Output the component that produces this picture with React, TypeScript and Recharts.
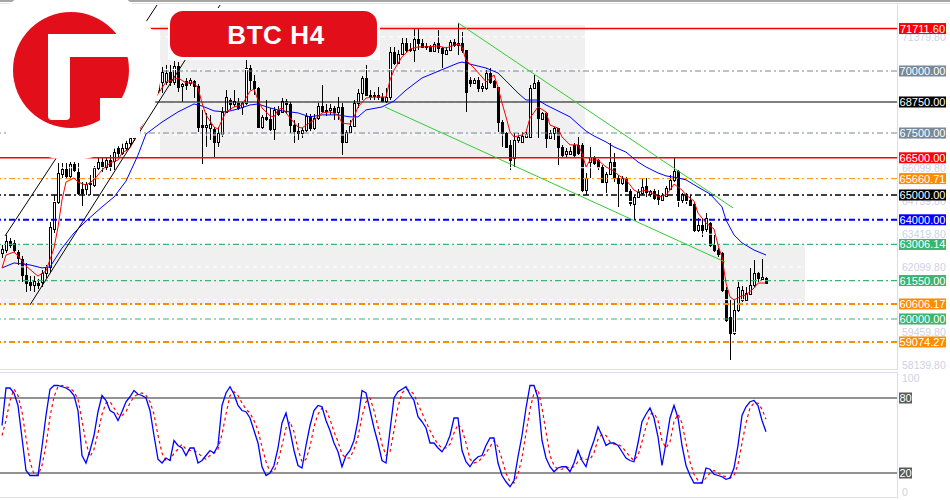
import React from "react";
import {
  ComposedChart,
  Bar,
  Line,
  XAxis,
  YAxis,
  ReferenceLine,
  ReferenceArea,
} from "recharts";

const FONT = "'Liberation Sans', Arial, sans-serif";

// [open, high, low, close] per H4 bar
const OHLC: [number, number, number, number][] = [
  [62660, 62980, 62460, 62820], [62780, 63430, 62660, 63150], [63150, 63270, 62860, 62980], [63070, 63190, 62700, 62780],
  [62700, 62780, 62180, 62460], [62420, 62540, 61490, 61770], [61770, 62260, 61090, 61450], [61490, 61730, 61130, 61370],
  [61370, 61730, 61090, 61530], [61450, 61610, 61210, 61370], [61490, 61980, 61290, 61860], [61860, 62180, 61650, 62100],
  [62100, 63910, 61900, 63710], [63630, 65000, 63470, 64720], [64720, 66290, 64640, 65890], [65850, 66290, 65690, 66050],
  [66050, 66290, 65690, 65770], [65770, 66330, 65690, 66250], [66250, 66330, 65930, 66010], [65930, 66290, 65000, 65080],
  [65240, 65520, 64560, 65080], [65240, 65520, 65000, 65440], [65440, 65810, 65000, 65480], [65400, 66170, 65320, 66090],
  [66090, 66490, 66010, 66330], [66330, 66490, 65930, 66170], [66130, 66530, 66010, 66410], [66410, 66610, 65970, 66170],
  [66370, 66940, 66010, 66730], [66900, 67020, 66530, 66690], [66690, 67100, 66610, 66900], [66900, 67220, 66770, 67100],
  [67100, 67380, 66980, 67300], [67300, 67780, 67180, 67660], [67660, 68190, 67540, 68060], [68060, 68510, 67900, 68350],
  [68350, 68830, 68190, 68670], [68670, 69030, 68510, 68910], [68910, 69400, 68790, 69230], [69230, 69720, 69110, 69560],
  [69560, 70160, 69110, 69960], [69560, 70240, 69440, 69920], [69960, 70240, 69400, 69560], [69560, 70400, 69440, 70200],
  [70200, 70360, 69150, 69350], [69400, 69520, 68750, 69480], [69600, 69720, 69230, 69440], [69520, 69720, 69400, 69640],
  [69600, 69640, 68910, 69400], [69400, 69480, 67540, 67740], [67820, 68430, 66250, 67740], [67740, 68310, 66940, 67820],
  [67700, 68230, 67220, 67860], [67660, 67740, 66530, 67140], [67140, 67740, 66940, 67500], [67460, 68550, 67340, 68350],
  [68350, 69230, 68310, 68950], [68830, 68910, 68430, 68670], [68670, 69230, 68550, 68790], [68750, 68910, 68430, 68510],
  [68550, 68750, 68230, 68710], [68710, 70440, 68630, 70120], [70120, 70240, 69230, 69640], [69600, 69840, 69030, 69310],
  [69310, 69350, 67700, 67740], [67740, 68230, 67660, 68150], [68150, 68830, 67980, 68060], [68060, 68510, 67580, 67660],
  [67660, 68550, 67220, 68430], [68430, 68590, 68190, 68270], [68350, 68910, 68350, 68790], [68790, 68870, 68270, 68670],
  [68670, 68750, 67500, 67820], [67820, 68020, 67100, 67580], [67580, 67900, 67220, 67500], [67500, 67700, 67300, 67620],
  [67620, 68310, 67540, 68190], [68190, 68270, 67580, 67700], [67700, 68270, 67620, 68110], [68110, 68750, 68020, 68590],
  [68590, 69440, 68310, 68390], [68390, 68670, 68190, 68430], [68430, 68670, 68230, 68510], [68510, 68590, 68020, 68350],
  [68350, 68950, 68020, 68550], [68550, 68710, 66610, 67140], [67140, 67620, 67100, 67540], [67540, 68020, 67500, 67780],
  [67780, 68830, 67740, 68710], [68710, 69270, 68510, 69110], [69110, 69800, 68830, 69720], [69720, 70240, 68990, 69030],
  [69030, 69230, 68830, 68990], [68990, 69150, 68830, 69030], [69030, 69350, 68830, 68950], [68950, 69110, 68710, 68790],
  [68790, 69310, 68710, 68950], [68950, 70970, 68830, 70770], [70770, 70970, 70240, 70320], [70320, 70850, 70280, 70690],
  [70690, 71330, 70650, 71130], [71130, 71330, 70770, 70850], [70890, 71130, 70770, 70850], [70850, 71730, 70360, 71290],
  [71290, 71690, 70850, 71130], [71130, 71290, 70930, 70970], [70970, 71130, 70850, 71010], [71010, 71050, 70770, 70810],
  [70810, 71170, 70810, 71090], [71130, 71650, 70730, 70930], [70930, 70970, 70120, 70730], [70690, 70970, 70650, 70850],
  [70850, 71250, 70850, 71170], [71170, 71290, 70970, 71050], [71050, 71940, 70650, 71130], [71130, 71570, 70730, 70850],
  [70850, 70850, 68350, 69150], [69640, 69760, 69350, 69520], [69520, 69720, 69480, 69640], [69640, 69760, 69150, 69310],
  [69310, 69520, 69150, 69400], [69310, 70120, 69230, 69920], [69920, 70120, 69480, 69560], [69600, 69640, 69310, 69350],
  [69350, 69350, 67540, 67940], [67940, 68020, 66940, 67500], [67500, 67540, 66900, 66940], [67020, 67220, 66010, 66410],
  [66490, 67500, 66130, 67220], [67220, 67500, 67100, 67340], [67140, 67540, 67100, 67380], [67340, 67540, 67300, 67460],
  [67340, 69440, 67300, 69310], [69310, 69840, 69310, 69520], [69560, 69640, 67300, 68110], [68060, 68350, 68020, 68310],
  [68310, 68350, 66900, 67300], [67300, 67620, 67260, 67500], [67500, 67740, 67220, 67700], [67700, 67700, 66210, 66940],
  [66940, 67020, 66530, 66610], [66650, 66900, 66530, 66770], [66650, 66940, 66610, 66770], [67020, 67100, 66530, 66610],
  [67020, 67340, 66610, 66690], [67020, 67100, 65120, 65200], [65200, 65890, 65000, 65690], [66330, 66940, 65690, 66530],
  [66530, 66570, 66210, 66290], [66410, 66450, 66010, 66130], [66130, 66210, 65480, 65520], [65520, 65930, 65080, 65850],
  [65850, 67100, 65810, 66330], [66330, 66690, 65520, 65690], [65690, 65810, 64520, 65480], [65480, 65770, 65400, 65690],
  [65690, 65730, 65120, 65160], [65160, 65240, 64560, 64680], [64640, 65000, 63990, 64920], [64920, 65240, 64880, 65120],
  [65080, 65650, 65000, 65320], [65360, 65690, 64920, 65120], [65040, 65200, 64920, 65160], [65160, 65240, 64800, 64880],
  [65000, 65200, 64600, 64840], [64800, 65080, 64760, 65000], [64960, 65360, 64920, 65280], [65240, 65810, 65200, 65610],
  [65610, 66490, 65520, 65970], [65970, 66010, 64520, 64800], [64800, 65080, 64680, 65040], [65040, 65080, 64640, 64800],
  [64800, 65000, 64560, 64600], [64640, 64680, 63510, 63590], [63590, 64070, 63510, 63790], [63790, 64070, 63310, 63590],
  [63630, 64270, 63510, 64070], [63870, 63910, 62900, 62980], [62980, 63390, 62700, 62780], [62780, 62860, 62500, 62620],
  [62660, 62700, 61090, 61170], [61170, 61290, 59880, 59960], [60080, 60770, 58350, 59440], [59440, 60770, 59360, 60360],
  [60360, 61490, 60280, 61290], [60770, 61330, 60690, 61170], [60770, 61290, 60730, 61050], [61010, 62060, 60970, 61370],
  [61370, 62380, 61290, 61860], [61860, 61900, 61490, 61650], [61610, 62420, 61570, 61690], [61650, 61690, 61410, 61450],
];

// fast moving average (red), read at bar index
const FAST_MA: [number, number][] = [
  [0, 62060], [1, 62580], [3, 62700], [4, 62540], [6, 62140], [8, 61860], [9, 61730], [11, 61940], [13, 62860],
  [14, 63710], [15, 64800], [16, 65520], [18, 65690], [19, 65520], [21, 65400], [23, 65610], [25, 66010], [27, 66290],
  [29, 66410], [30, 66690], [32, 66900], [35, 67820], [38, 68830], [41, 69560], [44, 69720], [46, 69520], [48, 69520],
  [49, 69310], [50, 68710], [51, 68230], [53, 67740], [54, 67660], [55, 68020], [56, 68350], [58, 68550], [60, 68630],
  [62, 69190], [63, 69270], [64, 68830], [65, 68510], [67, 68190], [68, 68150], [69, 68430], [70, 68510], [72, 68110],
  [74, 67740], [75, 67700], [76, 67820], [78, 68020], [80, 68310], [82, 68350], [84, 68230], [85, 67900], [87, 67860],
  [88, 68150], [89, 68550], [91, 68910], [93, 68950], [95, 68950], [96, 68950], [97, 69640], [98, 70040], [100, 70570],
  [102, 70890], [104, 70970], [106, 70970], [109, 71010], [111, 70930], [114, 71090], [115, 70970], [116, 70440],
  [118, 70120], [120, 69760], [121, 69560], [123, 69840], [124, 69350], [125, 68710], [126, 68150], [127, 67540],
  [128, 67340], [130, 67420], [131, 67540], [132, 68110], [134, 68550], [136, 68350], [137, 67820], [139, 67700],
  [140, 67340], [142, 67020], [144, 67020], [145, 66690], [146, 66130], [147, 66410], [149, 66410], [151, 66130],
  [153, 65970], [154, 65810], [156, 65610], [158, 65200], [159, 65120], [161, 65200], [163, 65040], [164, 64920],
  [166, 65000], [167, 65200], [168, 65440], [170, 65200], [171, 65000], [173, 64760], [174, 64270], [176, 63870],
  [178, 63630], [179, 62980], [180, 62500], [181, 61450], [182, 60890], [183, 60770], [185, 60930], [186, 60970],
  [188, 61250], [189, 61450], [191, 61450],
];

// slow moving average (blue)
const SLOW_MA: [number, number][] = [
  [0, 62060], [3, 62260], [7, 62180], [10, 62060], [12, 62100], [15, 62860], [18, 63470], [21, 63950], [25, 64520],
  [28, 64920], [31, 65560], [34, 66610], [36, 67460], [40, 67940], [44, 68350], [48, 68670], [50, 68590], [53, 68390],
  [56, 68350], [59, 68470], [62, 68630], [64, 68670], [67, 68510], [70, 68390], [74, 68310], [77, 68150], [80, 68230],
  [84, 68230], [87, 68150], [89, 68150], [91, 68430], [95, 68550], [98, 68790], [101, 69230], [105, 69720], [108, 69920],
  [111, 70120], [114, 70320], [115, 70360], [116, 70320], [118, 70240], [121, 70120], [124, 69920], [126, 69600],
  [129, 69110], [131, 68830], [134, 68830], [136, 68630], [139, 68390], [142, 68150], [144, 67860], [146, 67580],
  [148, 67380], [151, 67140], [153, 66940], [156, 66730], [159, 66330], [161, 66130], [164, 65890], [166, 65770],
  [169, 65690], [171, 65610], [174, 65320], [177, 65040], [180, 64520], [181, 63990], [183, 63390], [185, 63070],
  [188, 62780], [191, 62580],
];

// stochastic %K and %D
const STOCH_K = [
  58, 88, 88, 84, 74, 48, 22, 18, 18, 18, 41, 66, 87, 90, 90, 89, 88, 86, 82, 70,
  34, 28, 38, 50, 69, 82, 78, 70, 68, 62, 69, 77, 81, 86, 83, 82, 80, 70, 50, 31,
  28, 32, 30, 46, 42, 40, 34, 40, 40, 28, 30, 34, 38, 36, 42, 74, 84, 89, 83, 74,
  70, 69, 64, 54, 44, 25, 18, 20, 26, 40, 60, 68, 54, 38, 26, 24, 42, 58, 70, 74,
  73, 62, 54, 44, 37, 25, 34, 38, 46, 62, 86, 84, 70, 56, 44, 30, 28, 54, 80, 85,
  87, 89, 83, 78, 65, 61, 56, 44, 44, 40, 37, 42, 50, 64, 64, 38, 29, 25, 30, 33,
  34, 42, 48, 48, 28, 18, 13, 9, 14, 33, 50, 72, 90, 90, 80, 46, 32, 25, 21, 24,
  25, 25, 21, 28, 38, 30, 25, 37, 46, 57, 50, 42, 44, 44, 42, 37, 32, 30, 29, 44,
  61, 67, 72, 64, 49, 26, 44, 64, 74, 64, 42, 26, 18, 12, 12, 12, 24, 23, 19, 18,
  17, 15, 16, 24, 42, 66, 73, 77, 78, 74, 62, 53,
];
const STOCH_D = [
  50, 62, 78, 87, 82, 69, 48, 29, 19, 18, 26, 42, 65, 81, 89, 90, 89, 88, 85, 79,
  62, 44, 33, 39, 52, 67, 76, 77, 72, 67, 66, 69, 76, 81, 83, 84, 82, 77, 67, 50,
  36, 30, 30, 36, 39, 43, 39, 38, 38, 36, 33, 31, 34, 36, 39, 51, 67, 82, 85, 82,
  76, 71, 68, 62, 54, 41, 29, 21, 21, 29, 42, 56, 61, 53, 39, 29, 31, 41, 57, 67,
  72, 70, 63, 53, 45, 35, 32, 32, 39, 49, 65, 77, 80, 70, 57, 43, 34, 37, 54, 73,
  84, 87, 86, 83, 75, 68, 61, 54, 48, 43, 40, 40, 43, 52, 59, 55, 44, 31, 28, 29,
  32, 36, 41, 46, 41, 31, 20, 13, 12, 19, 32, 52, 71, 84, 87, 72, 53, 34, 26, 23,
  23, 25, 24, 25, 29, 32, 31, 31, 36, 47, 51, 50, 45, 43, 43, 41, 37, 33, 30, 34,
  45, 57, 67, 68, 62, 46, 40, 45, 61, 67, 60, 44, 29, 19, 14, 12, 16, 20, 22, 20,
  18, 17, 16, 18, 27, 44, 60, 72, 76, 76, 71, 63,
];

const LEVEL_PRICES = [71711.6, 70000, 68750, 67500, 66500, 65660.71, 65000, 64000, 63006.14, 61550, 60606.17, 60000, 59074.27];
const GRID_PRICES = [71379.8, 70059.8, 68739.8, 67419.8, 66099.8, 64739.8, 63419.8, 62099.8, 60779.8, 59459.8, 58139.8];
// grid values whose faint axis text can be seen (the others sit fully under a price tag)
const GRID_LABELLED = [71379.8, 67419.8, 66099.8, 64739.8, 63419.8, 62099.8, 59459.8, 58139.8];
const STOCH_LEVELS = [80, 20];
const STOCH_TICKS = [100, 0];

const ZONE_UPPER = { x1: 39.5, x2: 145.75, y1: 66500, y2: 71850 };
const ZONE_LOWER = { x1: -0.5, x2: 200.75, y1: 60606.17, y2: 63006.14 };

const CHANNEL_UP_TOP: [number, number][] = [[0.75, 63350], [38.75, 72660]];
const CHANNEL_UP_BOTTOM: [number, number][] = [[7, 60570], [54.5, 72660]];
const CHANNEL_DOWN_TOP: [number, number][] = [[114, 71940], [182.75, 64480]];
const CHANNEL_DOWN_BOTTOM: [number, number][] = [[95.75, 68550], [180.75, 62300]];

const RED = "#ff0000";
const GREY = "#778899";
const ORANGE = "#ff8c00";
const GREEN = "#3cb371";
const FAINT = "#cfd0e6";
const DASHDOT = "6 3 2 3";
const LEVEL_STYLE = [
  { color: RED, dash: undefined, w: 1.5 },
  { color: GREY, dash: DASHDOT, w: 1.2 },
  { color: "#000000", dash: undefined, w: 1 },
  { color: GREY, dash: DASHDOT, w: 1.2 },
  { color: RED, dash: undefined, w: 1.5 },
  { color: ORANGE, dash: DASHDOT, w: 1 },
  { color: "#000000", dash: DASHDOT, w: 1.5 },
  { color: "#0000ff", dash: DASHDOT, w: 2 },
  { color: GREEN, dash: DASHDOT, w: 1.2 },
  { color: GREEN, dash: DASHDOT, w: 1.2 },
  { color: ORANGE, dash: DASHDOT, w: 2 },
  { color: GREEN, dash: DASHDOT, w: 1.2 },
  { color: ORANGE, dash: DASHDOT, w: 2 },
];

const fastMap = new Map(FAST_MA);
const slowMap = new Map(SLOW_MA);
const ROWS = OHLC.map((c, i) => ({
  i,
  ohlc: c,
  range: [c[2], c[1]],
  fast: fastMap.get(i),
  slow: slowMap.get(i),
  k: STOCH_K[i],
  d: STOCH_D[i],
}));

const Candle = (props: any) => {
  const { x, y, width, height, payload } = props;
  if (x == null || !payload) return null;
  const [o, h, l, c] = payload.ohlc;
  const top = Math.min(y, y + height);
  const bottom = Math.max(y, y + height);
  const span = h - l || 1;
  const py = (p: number) => top + ((h - p) / span) * (bottom - top);
  const cx = Math.round(x + width / 2);
  const bTop = Math.round(py(Math.max(o, c)));
  const bBot = Math.round(py(Math.min(o, c)));
  return (
    <g shapeRendering="crispEdges">
      <line x1={cx + 0.5} x2={cx + 0.5} y1={top} y2={bottom} stroke="#000" strokeWidth={1} />
      <rect
        x={cx - 0.5}
        y={bTop + 0.5}
        width={2}
        height={Math.max(bBot - bTop, 1)}
        fill={c >= o ? "#fff" : "#000"}
        stroke="#000"
        strokeWidth={1}
      />
    </g>
  );
};

const Tag = ({ viewBox, text, bg, w }: any) => {
  if (!viewBox) return null;
  const x = viewBox.x + viewBox.width + 2;
  const y = viewBox.y;
  return (
    <g>
      <rect x={x} y={y - 5.5} width={w} height={11} fill={bg} />
      <text x={x + w / 2} y={y + 4} textAnchor="middle" fill="#fff" fontSize={11} fontFamily={FONT}>
        {text}
      </text>
    </g>
  );
};

// faint axis value written next to a grid line
const Faint = ({ viewBox, text, dy }: any) => {
  if (!viewBox) return null;
  return (
    <text x={viewBox.x + viewBox.width + 5} y={viewBox.y + dy} fill={FAINT} fontSize={10.5} fontFamily={FONT}>
      {text}
    </text>
  );
};

const seg = (s: [number, number][]) => s.map(([x, y]) => ({ x, y }));

export default function App() {
  return (
    <div
      style={{
        position: "absolute",
        left: 0,
        top: 0,
        width: 950,
        height: 500,
        background: "#fff",
        overflow: "hidden",
        fontFamily: FONT,
      }}
    >
      <div style={{ position: "absolute", left: 0, top: 0 }}>
        <ComposedChart width={950} height={371} data={ROWS} margin={{ top: 2, right: 0, bottom: 1, left: 0 }}>
          <XAxis dataKey="i" type="number" domain={[-0.5, 223.75]} hide allowDataOverflow />
          <YAxis
            orientation="right"
            type="number"
            width={53}
            domain={[57943.6, 72782.3]}
            allowDataOverflow
            tick={false}
            tickLine={false}
            axisLine={false}
          />
          <ReferenceArea {...ZONE_UPPER} fill="#f0f0f0" fillOpacity={1} stroke="none" />
          <ReferenceArea {...ZONE_LOWER} fill="#f0f0f0" fillOpacity={1} stroke="none" />
          {GRID_PRICES.map((p) => (
            <ReferenceLine
              key={"g" + p}
              y={p}
              stroke="#ffffff"
              strokeDasharray="4 4"
              label={
                GRID_LABELLED.includes(p)
                  ? (lp: any) => <Faint viewBox={lp.viewBox} text={p.toFixed(2)} dy={4} />
                  : undefined
              }
            />
          ))}
          {LEVEL_PRICES.map((p, idx) => (
            <ReferenceLine
              key={"l" + p}
              y={p}
              stroke={LEVEL_STYLE[idx].color}
              strokeWidth={LEVEL_STYLE[idx].w}
              strokeDasharray={LEVEL_STYLE[idx].dash}
              label={(lp: any) => <Tag viewBox={lp.viewBox} text={p.toFixed(2)} bg={LEVEL_STYLE[idx].color} w={47} />}
            />
          ))}
          <Bar dataKey="range" barSize={3} shape={Candle} isAnimationActive={false} />
          <Line type="linear" dataKey="slow" stroke="#0000ff" strokeWidth={1} dot={false} connectNulls isAnimationActive={false} />
          <Line type="linear" dataKey="fast" stroke="#ff0000" strokeWidth={1} dot={false} connectNulls isAnimationActive={false} />
          <ReferenceLine segment={seg(CHANNEL_UP_TOP)} stroke="#000" strokeWidth={1} ifOverflow="visible" />
          <ReferenceLine segment={seg(CHANNEL_UP_BOTTOM)} stroke="#000" strokeWidth={1} ifOverflow="visible" />
          <ReferenceLine segment={seg(CHANNEL_DOWN_TOP)} stroke="#32cd32" strokeWidth={1} ifOverflow="visible" />
          <ReferenceLine segment={seg(CHANNEL_DOWN_BOTTOM)} stroke="#32cd32" strokeWidth={1} ifOverflow="visible" />
        </ComposedChart>
      </div>

      <div style={{ position: "absolute", left: 0, top: 373 }}>
        <ComposedChart width={950} height={125} data={ROWS} margin={{ top: 0, right: 0, bottom: 0, left: 0 }}>
          <XAxis dataKey="i" type="number" domain={[-0.5, 223.75]} hide allowDataOverflow />
          <YAxis
            orientation="right"
            type="number"
            width={53}
            domain={[0, 100]}
            allowDataOverflow
            tick={false}
            tickLine={false}
            axisLine={false}
          />
          {STOCH_TICKS.map((v) => (
            <ReferenceLine
              key={"t" + v}
              y={v}
              stroke="none"
              label={(lp: any) => <Faint viewBox={lp.viewBox} text={String(v)} dy={v === 100 ? 9 : -2} />}
            />
          ))}
          {STOCH_LEVELS.map((v) => (
            <ReferenceLine
              key={"s" + v}
              y={v}
              stroke="#6e6e6e"
              strokeWidth={1.3}
              label={(lp: any) => <Tag viewBox={lp.viewBox} text={String(v)} bg="#5a5a5a" w={13} />}
            />
          ))}
          <Line type="linear" dataKey="d" stroke="#ff0000" strokeWidth={1.2} strokeDasharray="3 3" dot={false} isAnimationActive={false} />
          <Line type="linear" dataKey="k" stroke="#0000ff" strokeWidth={1.3} dot={false} isAnimationActive={false} />
        </ComposedChart>
      </div>

      <svg width={950} height={500} style={{ position: "absolute", left: 0, top: 0, pointerEvents: "none" }}>
        <rect x={0} y={0} width={950} height={2} fill="#a6a6a6" />
        <line x1={0} x2={950} y1={3.5} y2={3.5} stroke="#e2e2f0" />
        <line x1={897.5} x2={897.5} y1={3} y2={370} stroke="#dcdcee" />
        <line x1={0} x2={898} y1={369.5} y2={369.5} stroke="#dcdcee" />
        <rect x={-1} y={372.5} width={898.5} height={125} fill="none" stroke="#dcdcee" />
        {/* logo */}
        <circle cx={71} cy={70} r={90} fill="#fff" />
        <circle cx={71} cy={70} r={58} fill="#e20e1a" />
        <rect x={48} y={34} width={90} height={23} fill="#fff" />
        <rect x={48} y={34} width={22} height={86} rx={4} fill="#fff" />
        <rect x={100} y={98} width={40} height={40} fill="#fff" />
        {/* title */}
        <rect x={168} y={8} width={212} height={52} fill="#fff" />
        <rect x={170} y={11} width={207} height={46} rx={13} fill="#e20e1a" />
        <text x={276} y={44} textAnchor="middle" fill="#fff" fontSize={26} fontWeight="bold" letterSpacing={0.6} fontFamily={FONT}>
          BTC H4
        </text>
      </svg>
    </div>
  );
}
